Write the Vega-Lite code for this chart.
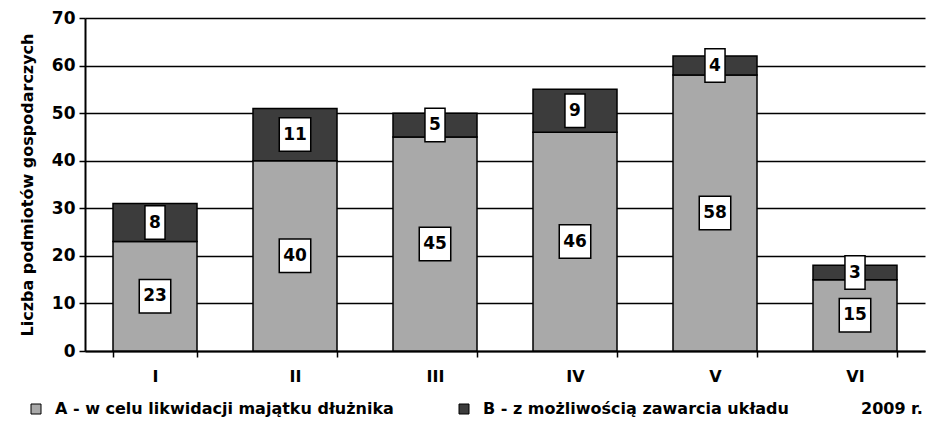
{
  "$schema": "https://vega.github.io/schema/vega-lite/v6.json",
  "width": 840,
  "height": 333,
  "autosize": "none",
  "padding": {"left": 85, "top": 18, "right": 16, "bottom": 81},
  "background": "white",
  "config": {"view": {"stroke": null}, "font": "DejaVu Sans"},
  "data": {
    "values": [
      {"month": "I", "series": "A - w celu likwidacji majątku dłużnika", "value": 23},
      {"month": "I", "series": "B - z możliwością zawarcia układu", "value": 8},
      {"month": "II", "series": "A - w celu likwidacji majątku dłużnika", "value": 40},
      {"month": "II", "series": "B - z możliwością zawarcia układu", "value": 11},
      {"month": "III", "series": "A - w celu likwidacji majątku dłużnika", "value": 45},
      {"month": "III", "series": "B - z możliwością zawarcia układu", "value": 5},
      {"month": "IV", "series": "A - w celu likwidacji majątku dłużnika", "value": 46},
      {"month": "IV", "series": "B - z możliwością zawarcia układu", "value": 9},
      {"month": "V", "series": "A - w celu likwidacji majątku dłużnika", "value": 58},
      {"month": "V", "series": "B - z możliwością zawarcia układu", "value": 4},
      {"month": "VI", "series": "A - w celu likwidacji majątku dłużnika", "value": 15},
      {"month": "VI", "series": "B - z możliwością zawarcia układu", "value": 3}
    ]
  },
  "transform": [
    {"stack": "value", "groupby": ["month"], "sort": [{"field": "series", "order": "ascending"}], "as": ["y0", "y1"]},
    {"calculate": "(datum.y0 + datum.y1) / 2", "as": "mid"}
  ],
  "encoding": {
    "x": {
      "field": "month", "type": "nominal",
      "sort": ["I", "II", "III", "IV", "V", "VI"],
      "scale": {"paddingInner": 0.4, "paddingOuter": 0.2},
      "axis": {
        "title": null, "labelAngle": 0, "labelFont": "DejaVu Sans", "labelFontSize": 16, "labelFontWeight": "bold",
        "labelColor": "black", "labelPadding": 11, "tickBand": "extent", "tickColor": "black", "tickSize": 6,
        "tickWidth": 1.5, "domainColor": "black", "domainWidth": 2, "grid": false
      }
    }
  },
  "layer": [
    {
      "mark": {"type": "bar", "stroke": "black", "strokeWidth": 1.5},
      "encoding": {
        "y": {
          "field": "y0", "type": "quantitative",
          "scale": {"domain": [0, 70]},
          "axis": {
            "title": "Liczba podmiotów gospodarczych", "titleFont": "DejaVu Sans", "titleFontSize": 16,
            "titleFontWeight": "bold", "titleColor": "black", "titlePadding": 16,
            "values": [0, 10, 20, 30, 40, 50, 60, 70],
            "labelFontSize": 17, "labelFontWeight": "bold", "labelColor": "black", "labelPadding": 4,
            "tickColor": "black", "tickSize": 6, "tickWidth": 1.5,
            "domainColor": "black", "domainWidth": 2,
            "grid": true, "gridColor": "black", "gridWidth": 1.6, "gridOpacity": 1
          }
        },
        "y2": {"field": "y1"},
        "color": {
          "field": "series", "type": "nominal",
          "scale": {"range": ["#a9a9a9", "#3c3c3c"]},
          "legend": {
            "title": "2009 r.", "titleOrient": "right", "titleFontSize": 16, "titleFontWeight": "bold",
            "titleColor": "black", "titlePadding": 72,
            "orient": "none", "legendX": -57, "legendY": 383, "direction": "horizontal",
            "labelFontSize": 16, "labelFontWeight": "bold", "labelColor": "black", "labelOffset": 11,
            "symbolType": "square", "symbolSize": 100, "symbolStrokeColor": "black", "symbolStrokeWidth": 1,
            "symbolOpacity": 1, "columnPadding": 62, "labelLimit": 600
          }
        }
      }
    },
    {
      "mark": {"type": "point", "filled": true, "fill": "white", "stroke": "black", "strokeWidth": 1.5, "opacity": 1, "size": 1122},
      "encoding": {
        "y": {"field": "mid", "type": "quantitative"},
        "shape": {
          "condition": {"test": "datum.value >= 10", "value": "M-0.94,-1H0.94V1H-0.94Z"},
          "value": "M-0.6,-1H0.6V1H-0.6Z"
        }
      }
    },
    {
      "mark": {"type": "text", "fontSize": 17, "fontWeight": "bold", "color": "black", "baseline": "middle"},
      "encoding": {
        "y": {"field": "mid", "type": "quantitative"},
        "text": {"field": "value", "type": "quantitative"}
      }
    }
  ]
}
